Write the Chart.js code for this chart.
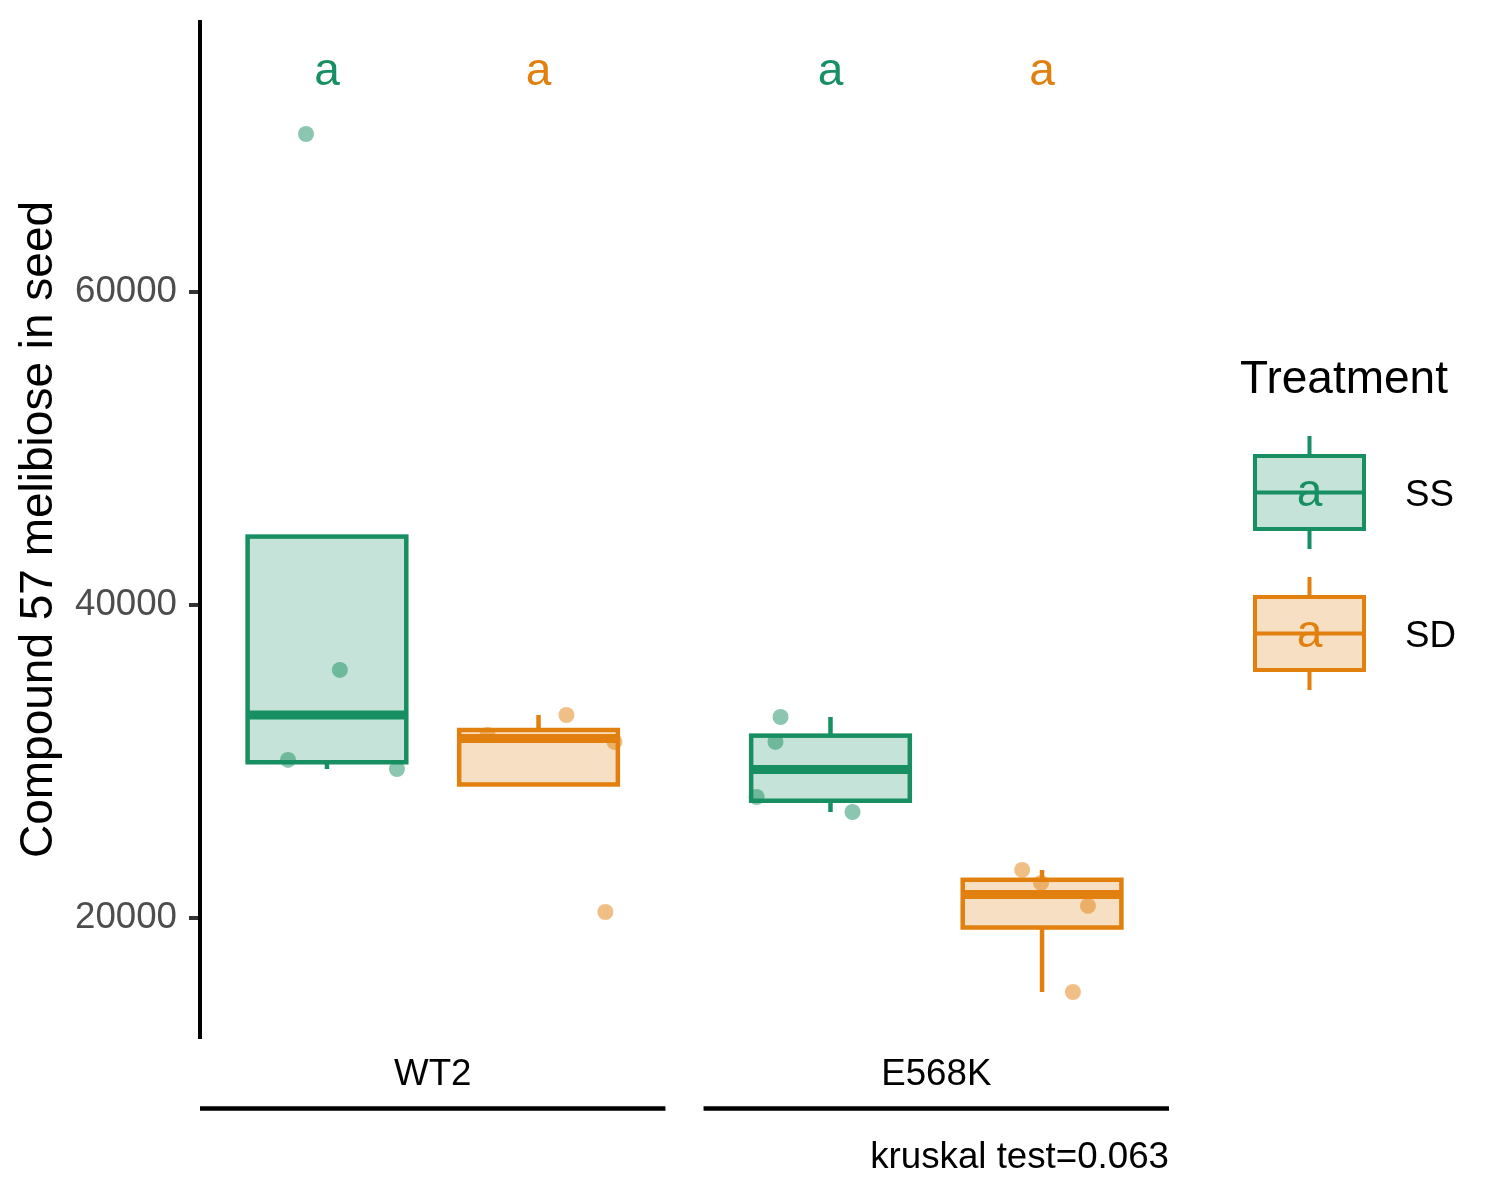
<!DOCTYPE html>
<html>
<head>
<meta charset="utf-8">
<script src="https://cdn.jsdelivr.net/npm/chart.js@4.4.1/dist/chart.umd.min.js"></script>
<style>
  html, body { margin: 0; padding: 0; background: #fff; }
  #wrap { width: 1500px; height: 1200px; }
</style>
</head>
<body>
<div id="wrap"><canvas id="chart" width="1500" height="1200"></canvas></div>
<script>
// Facets (genotype) and groups (treatment)
const genotypes = ['WT2', 'E568K'];
const treatments = ['SS', 'SD'];
const treatmentColors = ['#178F62', '#E1800E'];

// Box statistics, indexed [genotype][treatment]
const whiskerLow  = [[29520, 28530], [26770, 15270]];
const q1          = [[29950, 28530], [27490, 19390]];
const median      = [[32970, 31470], [29490, 21500]];
const q3          = [[44370, 32010], [31650, 22440]];
const whiskerHigh = [[44370, 32970], [32840, 23070]];

// Jittered observations, [genotype][treatment][point]
const pointValues = [
  [[70096, 35850, 30100, 29520], [32970, 31690, 31250, 20380]],
  [[32840, 31250, 27730, 26770], [23070, 22240, 20770, 15270]]
];
// horizontal jitter, in category units
const pointJitter = [
  [[-0.099, 0.061, -0.184, 0.331], [0.132, -0.241, 0.359, 0.316]],
  [[-0.236, -0.260, -0.349, 0.104], [-0.094, -0.005, 0.217, 0.146]]
];

// Compact letter display above each box
const letters = [['a', 'a'], ['a', 'a']];
const letterY = 73200;

const yTicks = [20000, 40000, 60000];
const yMin = 12396;
const yMax = 77252;
const yTitle = 'Compound 57 melibiose in seed';
const legendTitle = 'Treatment';
const caption = 'kruskal test=0.063';

// x layout: two categories per facet at 1 and 2, facets side by side
const facetWidth = 2.2;     // 0.4 .. 2.6
const facetGap = 0.18;
const facetStep = facetWidth + facetGap;
const xMin = 0.4;
const xMax = xMin + facetStep + facetWidth;
const boxWidth = 0.75;

const FONT = "'Liberation Sans', Arial, Helvetica, sans-serif";

function xPos(gi, ti) {
  return gi * facetStep + ti + 1;
}

function rgba(hex, a) {
  const n = parseInt(hex.slice(1), 16);
  return `rgba(${(n >> 16) & 255}, ${(n >> 8) & 255}, ${n & 255}, ${a})`;
}

// no extra room for half tick labels at the ends of the axes
function noLabelPadding(s) {
  s.paddingTop = 0;
  s.paddingBottom = 0;
  s.paddingLeft = 0;
  s.paddingRight = 0;
}

// Draws boxes, whiskers and medians from the scales
const boxPlugin = {
  id: 'boxes',
  beforeDatasetsDraw(chart) {
    const { ctx, scales: { x, y } } = chart;
    ctx.save();
    genotypes.forEach((g, gi) => {
      treatments.forEach((t, ti) => {
        const color = treatmentColors[ti];
        const cx = x.getPixelForValue(xPos(gi, ti));
        const left = x.getPixelForValue(xPos(gi, ti) - boxWidth / 2);
        const right = x.getPixelForValue(xPos(gi, ti) + boxWidth / 2);
        const top = y.getPixelForValue(q3[gi][ti]);
        const bottom = y.getPixelForValue(q1[gi][ti]);
        const hi = y.getPixelForValue(whiskerHigh[gi][ti]);
        const lo = y.getPixelForValue(whiskerLow[gi][ti]);
        const med = y.getPixelForValue(median[gi][ti]);

        ctx.strokeStyle = color;
        ctx.lineWidth = 4.5;
        ctx.lineCap = 'butt';
        // whiskers
        ctx.beginPath();
        ctx.moveTo(cx, hi); ctx.lineTo(cx, top);
        ctx.moveTo(cx, bottom); ctx.lineTo(cx, lo);
        ctx.stroke();
        // box
        ctx.fillStyle = rgba(color, 0.25);
        ctx.fillRect(left, top, right - left, bottom - top);
        ctx.strokeRect(left, top, right - left, bottom - top);
        // median
        ctx.lineWidth = 9;
        ctx.beginPath();
        ctx.moveTo(left, med); ctx.lineTo(right, med);
        ctx.stroke();
      });
    });
    ctx.restore();
  },
  afterDatasetsDraw(chart) {
    const { ctx, scales: { x, y } } = chart;
    ctx.save();
    ctx.font = `46px ${FONT}`;
    ctx.textAlign = 'center';
    ctx.textBaseline = 'alphabetic';
    genotypes.forEach((g, gi) => {
      treatments.forEach((t, ti) => {
        ctx.fillStyle = treatmentColors[ti];
        ctx.fillText(letters[gi][ti], x.getPixelForValue(xPos(gi, ti)), y.getPixelForValue(letterY));
      });
    });
    ctx.restore();
  }
};

// Facet strip lines under the genotype labels and the legend
const decorPlugin = {
  id: 'decor',
  afterDraw(chart) {
    const { ctx, chartArea, scales: { x } } = chart;
    ctx.save();
    // strip lines
    ctx.strokeStyle = '#000';
    ctx.lineWidth = 4.5;
    const lineY = chartArea.bottom + 71.5;
    genotypes.forEach((g, gi) => {
      const a = x.getPixelForValue(xMin + gi * facetStep);
      const b = x.getPixelForValue(xMin + gi * facetStep + facetWidth);
      ctx.beginPath();
      ctx.moveTo(a, lineY); ctx.lineTo(b, lineY);
      ctx.stroke();
    });

    // legend
    ctx.fillStyle = '#000';
    ctx.font = `46px ${FONT}`;
    ctx.textAlign = 'left';
    ctx.textBaseline = 'alphabetic';
    ctx.fillText(legendTitle, 1240, 393);

    const keyLeft = 1255, keyRight = 1364, keyMid = 1309.5;
    const keyTops = [456, 597];
    const keyH = 73, whisk = 20;
    treatments.forEach((t, ti) => {
      const color = treatmentColors[ti];
      const top = keyTops[ti];
      const bottom = top + keyH;
      const mid = (top + bottom) / 2;
      ctx.strokeStyle = color;
      ctx.lineWidth = 4;
      ctx.beginPath();
      ctx.moveTo(keyMid, top - whisk); ctx.lineTo(keyMid, top);
      ctx.moveTo(keyMid, bottom); ctx.lineTo(keyMid, bottom + whisk);
      ctx.stroke();
      ctx.fillStyle = rgba(color, 0.25);
      ctx.fillRect(keyLeft, top, keyRight - keyLeft, keyH);
      ctx.strokeRect(keyLeft, top, keyRight - keyLeft, keyH);
      ctx.beginPath();
      ctx.moveTo(keyLeft, mid); ctx.lineTo(keyRight, mid);
      ctx.stroke();

      ctx.fillStyle = color;
      ctx.font = `46px ${FONT}`;
      ctx.textAlign = 'center';
      ctx.textBaseline = 'middle';
      ctx.fillText('a', keyMid, mid + 1);

      ctx.fillStyle = '#000';
      ctx.font = `36.7px ${FONT}`;
      ctx.textAlign = 'left';
      ctx.fillText(t, 1405, mid + 3);
    });
    ctx.restore();
  }
};

const datasets = treatments.map((t, ti) => ({
  label: t,
  data: genotypes.flatMap((g, gi) =>
    pointValues[gi][ti].map((v, k) => ({ x: xPos(gi, ti) + pointJitter[gi][ti][k], y: v }))
  ),
  backgroundColor: rgba(treatmentColors[ti], 0.5),
  borderWidth: 0,
  pointRadius: 8,
  pointHoverRadius: 8
}));

new Chart(document.getElementById('chart'), {
  type: 'scatter',
  data: { datasets },
  options: {
    responsive: false,
    animation: false,
    devicePixelRatio: 1,
    layout: { padding: { left: 0, right: 331, top: 22, bottom: 0 } },
    plugins: {
      legend: { display: false },
      tooltip: { enabled: false },
      title: {
        display: true,
        text: caption,
        position: 'bottom',
        align: 'end',
        color: '#000',
        font: { family: FONT, size: 36.7, weight: 'normal' },
        padding: { top: 10, bottom: 20 }
      }
    },
    scales: {
      x: {
        type: 'linear',
        bounds: 'data',
        min: xMin,
        max: xMax,
        afterBuildTicks: s => { s.ticks = genotypes.map((g, gi) => ({ value: xMin + gi * facetStep + facetWidth / 2 })); },
        afterFit: s => { s.height = 89; noLabelPadding(s); },
        ticks: {
          autoSkip: false,
          maxRotation: 0,
          padding: 16,
          color: '#000',
          font: { family: FONT, size: 36.7 },
          callback: (v, i) => genotypes[i]
        },
        grid: { display: false, drawTicks: false },
        border: { display: false }
      },
      y: {
        type: 'linear',
        bounds: 'data',
        min: yMin,
        max: yMax,
        afterBuildTicks: s => { s.ticks = yTicks.map(v => ({ value: v })); },
        afterFit: s => { s.width = 200; noLabelPadding(s); },
        ticks: {
          padding: 12,
          color: '#4D4D4D',
          font: { family: FONT, size: 36.7 },
          callback: v => String(v)
        },
        grid: {
          drawOnChartArea: false,
          drawTicks: true,
          tickLength: 11,
          tickColor: '#333333',
          tickWidth: 4,
          lineWidth: 4
        },
        border: { display: true, color: '#000', width: 4 },
        title: {
          display: true,
          text: yTitle,
          color: '#000',
          font: { family: FONT, size: 46 },
          padding: { top: 12, bottom: 0 }
        }
      }
    }
  },
  plugins: [boxPlugin, decorPlugin]
});
</script>
</body>
</html>
